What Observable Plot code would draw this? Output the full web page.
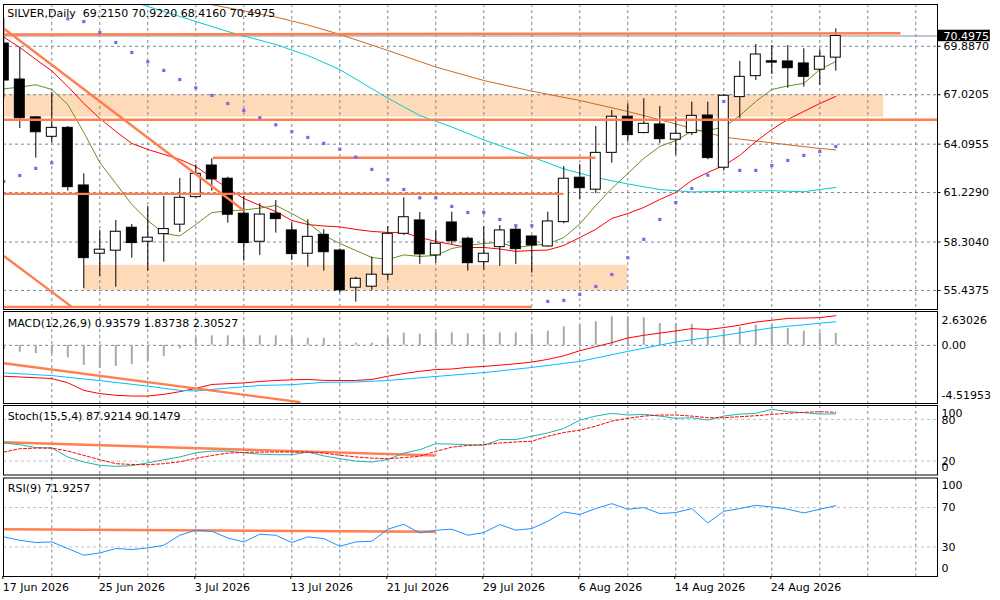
<!DOCTYPE html>
<html><head><meta charset="utf-8">
<script src="https://cdn.jsdelivr.net/npm/d3@7"></script>
<script src="https://cdn.jsdelivr.net/npm/@observablehq/plot@0.6"></script>
<style>
html,body{margin:0;padding:0;background:#fff;}
#chart{width:1000px;height:600px;overflow:hidden;}
#chart svg{display:block;}
</style></head><body><div id="chart"></div>
<script>
// ---------- data (bar index 0 = 17 Jun 2026, daily trading bars) ----------
const symbol = "SILVER,Daily";
const opens  = [70.05,67.92,65.68,64.53,65.06,61.65,57.61,57.79,59.15,58.32,58.77,59.33,60.96,62.83,62.05,59.98,58.32,59.98,58.99,57.61,58.73,57.80,55.60,55.66,56.37,58.79,59.58,57.51,59.46,58.50,57.11,58.00,59.03,58.63,58.04,59.48,62.11,61.40,63.58,65.72,64.75,65.26,64.36,64.75,65.79,62.70,66.88,68.12,69.00,68.99,68.87,68.50,69.2150];
const highs  = [71.53,69.82,65.73,67.15,65.14,62.34,58.99,59.58,59.34,60.41,61.00,62.06,62.87,63.23,62.14,61.00,60.57,60.76,59.42,59.62,59.03,57.90,56.22,57.41,59.22,60.92,60.05,58.99,60.07,58.59,59.22,59.28,59.15,58.66,60.07,62.77,62.89,65.14,66.09,66.48,66.78,66.33,65.69,66.58,66.58,67.02,68.99,69.99,69.93,69.93,69.74,69.68,70.9220];
const lows   = [66.80,65.02,63.27,64.18,61.31,55.54,56.27,55.63,57.35,56.58,57.11,58.87,60.90,61.31,59.42,57.17,57.51,58.83,57.21,56.82,56.58,55.28,54.75,55.44,56.03,58.69,56.98,57.05,58.16,56.58,56.66,56.86,56.98,56.46,58.00,59.38,60.80,61.16,62.97,64.21,64.71,64.12,63.43,64.61,63.17,62.50,65.60,67.86,68.22,67.41,67.47,67.57,68.4160];
const closes = [67.86,65.63,64.80,65.06,61.55,57.35,57.85,58.91,58.24,58.56,59.07,60.92,62.34,62.01,59.92,58.24,59.93,59.66,57.59,58.61,57.70,55.44,56.13,56.37,58.79,59.77,57.57,58.20,58.35,57.05,57.61,58.99,57.88,58.10,59.52,62.05,61.49,63.58,65.72,64.63,65.30,64.39,64.71,65.77,63.27,66.96,68.08,69.40,68.92,68.59,68.08,69.27,70.4975];

const fastMA = [67.37,67.47,67.61,67.33,66.44,64.79,63.01,61.77,60.53,59.58,58.81,58.66,59.34,60.05,60.14,60.20,60.31,60.47,59.99,59.46,58.69,58.22,57.80,57.39,57.27,57.54,57.45,57.51,57.92,58.10,58.22,58.28,57.98,58.10,58.19,58.57,59.37,60.47,61.47,62.36,63.25,63.96,64.31,64.85,64.93,65.08,65.79,66.62,67.33,67.54,67.69,68.51,68.99];
const midMA  = [70.43,69.82,69.11,68.43,67.51,66.50,65.62,64.85,64.14,63.78,63.49,63.19,62.77,62.12,61.47,60.88,60.47,60.11,59.58,59.34,59.25,59.20,59.05,58.93,58.87,58.87,58.57,58.34,58.16,57.98,57.98,57.89,57.75,57.80,57.83,58.10,58.57,59.05,59.70,59.99,60.35,60.82,61.24,61.95,62.42,62.83,63.43,64.25,64.96,65.56,66.03,66.50,66.92];
const slowBars = [8,11,14,17,19,21,24,26,28,30,33,35,37,39,41,43,45,48,50,51,52];
const slowMA   = [72.54,71.65,70.76,69.99,69.34,68.51,66.82,65.79,65.11,64.35,63.34,62.63,62.12,61.74,61.41,61.27,61.30,61.34,61.28,61.41,61.53];
const longBars = [12,13,15,17,19,21,24,27,30,33,36,39,42,45,48,51,52];
const longMA   = [72.54,72.35,71.98,71.62,71.15,70.59,69.64,68.66,67.86,67.23,66.68,66.03,65.29,64.51,64.17,63.84,63.76];
const sar = [61.89,62.24,62.66,62.99,71.51,71.35,70.70,70.11,69.52,68.97,68.46,67.92,67.43,66.98,66.50,66.09,65.66,65.24,64.83,64.49,64.14,63.80,63.33,62.60,61.99,61.41,60.92,60.92,60.41,60.05,60.05,59.64,59.27,59.27,54.79,54.85,55.20,55.67,56.38,57.37,58.46,59.64,60.64,61.47,62.26,66.62,62.54,62.54,62.83,63.13,63.43,63.66,63.96];

const priceTicks = [69.8870,67.0205,64.0955,61.2290,58.3040,55.4375];
// drawn objects: horizontal/diagonal trend lines and zones (bar index, price)
const trendFrom  = [[-1,70.58],[-1,65.54],[13.06,63.29],[-1,61.15],[-1,54.46],[0,70.94],[0,57.48]];
const trendTo    = [[56.04,70.66],[60,65.54],[36.98,63.29],[34.98,61.15],[33.0,54.46],[15,60.17],[4.275,54.45]];
const zoneBars   = [[-1,55],[5,39]];
const zonePrices = [[65.69,67.02],[55.44,56.92]];

// MACD(12,26,9)
const macdHist = [-0.33,-0.54,-0.64,-0.64,-0.97,-1.56,-1.79,-1.64,-1.49,-1.23,-0.85,-0.28,0.56,0.74,0.74,0.56,0.74,0.74,0.56,0.56,0.56,0.05,0.18,0.18,0.56,0.95,0.87,1.00,0.97,0.89,0.84,0.97,0.97,0.89,1.10,1.44,1.54,1.83,2.22,2.22,2.14,1.70,1.70,1.62,1.23,1.23,1.41,1.57,1.57,1.31,1.10,0.97,0.93579];
const macdRed  = [-2.40,-2.46,-2.52,-2.58,-2.91,-3.50,-3.75,-3.88,-3.94,-3.94,-3.81,-3.60,-3.35,-3.04,-2.98,-2.92,-2.81,-2.73,-2.68,-2.65,-2.72,-2.73,-2.73,-2.65,-2.40,-2.19,-2.02,-1.88,-1.84,-1.71,-1.64,-1.54,-1.43,-1.30,-1.09,-0.81,-0.42,-0.10,0.21,0.57,0.78,0.95,1.12,1.30,1.23,1.38,1.57,1.81,1.95,2.09,2.12,2.15,2.30527];
const macdBlueBars = [0,3,6,9,11,12,14,16,18,20,22,24,26,28,30,33,36,39,42,45,48,52];
const macdBlue     = [-2.14,-2.35,-2.74,-3.17,-3.50,-3.55,-3.32,-3.12,-3.06,-2.87,-2.85,-2.73,-2.52,-2.32,-2.12,-1.72,-1.25,-0.47,0.26,0.78,1.36,1.83738];
const macdTicks = [2.63026,0,-4.51953];
const macdTickLabels = ["2.63026","0.00","-4.51953"];
const macdTrend = [[0,-1.39],[18.54,-4.42]];

// Stochastic(15,5,4)
const stochMain = [46,43.6,39.5,39,25.8,18.6,14,12.4,13.5,17.5,22,26,32,34.4,34.4,32,30,29.2,29.2,33,27.5,23.5,20,18.6,22.4,31.5,36.4,45,44.5,43.5,42.7,51,51,55.8,60.6,66.9,79,84.8,88.7,86.3,87.3,84.8,81.5,82.4,79,84.8,87.7,88.7,94.5,91.1,89.7,87.7,87.9214];
const stochSignal = [33,37.8,38.7,38.7,34.4,28.2,22,16.3,15.2,14.8,16.3,19,24,28,31.5,32.5,33,33,33,33,31.5,28.5,26,24.3,23.4,25,27,34,40,42.5,43.7,46.1,47.5,48.6,55.8,61.1,64.5,70.3,77.6,81.5,84.8,86.3,86.3,84.8,82.4,82.4,83.9,85.3,87.3,88.7,90.2,91.1,90.1479];
const stochTicks = [100,80,20,0];
const stochTrend = [[0,47.2],[26.98,28.1]];

// RSI(9)
const rsi = [40.2,36.8,34.5,35.1,28.4,21.6,23.9,28.4,27.4,29,31.7,41.9,47,45.9,39.1,35.1,42.9,41.9,34.5,40.2,38.5,30.7,35.1,35.8,48,53,44.2,47,48,41.9,44.6,52.7,47,48.7,56.1,65.5,62.9,69,74,68.3,70,63.9,64.9,69,54.4,66.2,69,72.3,70.6,68.3,64.5,68.3,71.9257];
const rsiTicks = [100,70,30,0];
const rsiTrend = [[0,48.0],[26.98,45.4]];

const dateBars   = [0,6,12,18,24,30,36,42,48];
const dateLabels = ["17 Jun 2026","25 Jun 2026","3 Jul 2026","13 Jul 2026","21 Jul 2026","29 Jul 2026","6 Aug 2026","14 Aug 2026","24 Aug 2026"];

// ---------- helpers ----------
const X0 = -0.01875, X1 = 58.356;
const N = closes.length;
const candles = d3.range(N).map(i => ({i, open: opens[i], high: highs[i], low: lows[i], close: closes[i]}));
const series = (vals, bars) => vals.map((v, k) => ({i: bars ? bars[k] : k, v}));
const gridBars = d3.range(3, 58, 3);
const GRID = "#778899", CORAL = "#FF7F50";
const vGrid = () => Plot.ruleX(gridBars, {stroke: GRID, strokeDasharray: "3,3"});
const segs = (a, b) => a.map((p, k) => ({x1: p[0], y1: p[1], x2: b[k][0], y2: b[k][1]}));
const sideText = (vals, labels, dys) => vals.map((v, k) =>
  Plot.text([v], {x: X1, y: d => d, text: () => labels[k], dx: 4, dy: dys[k], textAnchor: "start", fill: "black"}));
const ln = (data, stroke, extra = {}) => Plot.line(data, {x: "i", y: "v", stroke, strokeWidth: 1, clip: true, ...extra});

function panel(h, mt, mb, yDomain, marks) {
  return Plot.plot({
    width: 1000, height: h, marginLeft: 3, marginRight: 63, marginTop: mt, marginBottom: mb,
    x: {domain: [X0, X1], axis: null}, y: {domain: yDomain, axis: null},
    style: {fontFamily: "'DejaVu Sans', sans-serif", fontSize: "11px", background: "white", color: "black"},
    marks
  });
}

const last = candles[N - 1];
const lastClose = closes[N - 1];

// ---------- main price panel ----------
const mainHeader = `${symbol}  ${last.open.toFixed(4)} ${last.high.toFixed(4)} ${last.low.toFixed(4)} ${last.close.toFixed(4)}`;
const zones = zoneBars.map((b, k) => ({x1: b[0], x2: b[1], y1: zonePrices[k][0], y2: zonePrices[k][1]}));
const main = panel(310, 4, 1, [54.31, 72.36], [
  Plot.rect(zones, {x1: "x1", x2: "x2", y1: "y1", y2: "y2", fill: "#FFDAB9", clip: true}),
  vGrid(),
  Plot.ruleY(priceTicks, {stroke: GRID, strokeDasharray: "3,3"}),
  Plot.ruleY([lastClose], {stroke: "#8593a0"}),
  ln(series(longMA, longBars), "#D2691E"),
  ln(series(slowMA, slowBars), "#00CED1"),
  ln(series(midMA), "#FF0000"),
  ln(series(fastMA), "#6B8E23"),
  Plot.ruleX(candles, {x: "i", y1: "low", y2: "high", stroke: "black", clip: true}),
  Plot.rect(candles.filter(d => d.close >= d.open), {x1: d => d.i - 0.31, x2: d => d.i + 0.31, y1: "open", y2: "close", fill: "white", stroke: "black", clip: true}),
  Plot.rect(candles.filter(d => d.close < d.open), {x1: d => d.i - 0.31, x2: d => d.i + 0.31, y1: "open", y2: "close", fill: "black", stroke: "black", clip: true}),
  Plot.link(segs(trendFrom, trendTo), {x1: "x1", y1: "y1", x2: "x2", y2: "y2", stroke: CORAL, strokeWidth: 2.4, clip: true}),
  Plot.dot(series(sar), {x: "i", y: "v", symbol: "square", r: 1.8, fill: "#7B68EE", clip: true}),
  Plot.frame({stroke: "black"}),
  Plot.ruleY(priceTicks, {x1: X1, x2: X1 + 0.22, stroke: "black"}),
  Plot.text(priceTicks, {x: X1, y: d => d, text: d => d.toFixed(4), dx: 6, textAnchor: "start", fill: "black"}),
  Plot.rect([lastClose], {x1: X1, x2: X1 + 3.3, y1: d => d - 0.34, y2: d => d + 0.34, fill: "black"}),
  Plot.text([lastClose], {x: X1, y: d => d, text: d => d.toFixed(4), dx: 6, textAnchor: "start", fill: "white"}),
  Plot.text([mainHeader], {frameAnchor: "top-left", dx: 3.7, dy: 4.3, lineAnchor: "top", textAnchor: "start", fill: "black"})
]);

// ---------- MACD panel ----------
const macdHeader = `MACD(12,26,9) ${macdHist[N - 1].toFixed(5)} ${macdBlue[macdBlue.length - 1].toFixed(5)} ${macdRed[N - 1].toFixed(5)}`;
const macd = panel(94, 1, 1, [-4.51953, 2.63026], [
  vGrid(),
  Plot.ruleY([0], {stroke: GRID, strokeDasharray: "3,3"}),
  Plot.ruleX(series(macdHist), {x: "i", y1: 0, y2: "v", stroke: "#a9a9a9", strokeWidth: 2, clip: true}),
  ln(series(macdRed), "#FF0000"),
  ln(series(macdBlue, macdBlueBars), "#00BFFF"),
  Plot.link(segs([macdTrend[0]], [macdTrend[1]]), {x1: "x1", y1: "y1", x2: "x2", y2: "y2", stroke: CORAL, strokeWidth: 2.4, clip: true}),
  Plot.frame({stroke: "black"}),
  ...sideText(macdTicks, macdTickLabels, [9.3, 0.6, -8]),
  Plot.text([macdHeader], {frameAnchor: "top-left", dx: 4.3, dy: 7.5, lineAnchor: "top", textAnchor: "start", fill: "black"})
]);

// ---------- Stochastic panel ----------
const stochHeader = `Stoch(15,5,4) ${stochMain[N - 1].toFixed(4)} ${stochSignal[N - 1].toFixed(4)}`;
const stoch = panel(72, 1, 1.5, [0, 100], [
  vGrid(),
  Plot.ruleY([80, 20], {stroke: "#c0c0c0", strokeDasharray: "3,3"}),
  Plot.link(segs([stochTrend[0]], [stochTrend[1]]), {x1: "x1", y1: "y1", x2: "x2", y2: "y2", stroke: CORAL, strokeWidth: 2.4, clip: true}),
  ln(series(stochMain), "#20B2AA"),
  ln(series(stochSignal), "#FF0000", {strokeDasharray: "3,2"}),
  Plot.frame({stroke: "black"}),
  ...sideText(stochTicks, stochTicks.map(String), [8, 1, 0, -7.5]),
  Plot.text([stochHeader], {frameAnchor: "top-left", dx: 4.3, dy: 6.5, lineAnchor: "top", textAnchor: "start", fill: "black"})
]);

// ---------- RSI panel ----------
const rsiHeader = `RSI(9) ${rsi[N - 1].toFixed(4)}`;
const rsiPlot = panel(124, 1.5, 24, [0, 100], [
  vGrid(),
  Plot.ruleY([70, 30], {stroke: "#c0c0c0", strokeDasharray: "3,3"}),
  Plot.link(segs([rsiTrend[0]], [rsiTrend[1]]), {x1: "x1", y1: "y1", x2: "x2", y2: "y2", stroke: CORAL, strokeWidth: 2.4, clip: true}),
  ln(series(rsi), "#1E90FF"),
  Plot.frame({stroke: "black"}),
  ...sideText(rsiTicks, rsiTicks.map(String), [7.5, 0.3, 0.3, -7.7]),
  Plot.text([rsiHeader], {frameAnchor: "top-left", dx: 4.3, dy: 6, lineAnchor: "top", textAnchor: "start", fill: "black"}),
  Plot.axisX(dateBars, {anchor: "bottom", tickSize: 3, tickPadding: 4, textAnchor: "start", dx: -1,
    tickFormat: d => dateLabels[dateBars.indexOf(d)], fontSize: 11, fill: "black"})
]);

const root = document.getElementById("chart");
[main, macd, stoch, rsiPlot].forEach(s => root.appendChild(s));
</script>
</body></html>
